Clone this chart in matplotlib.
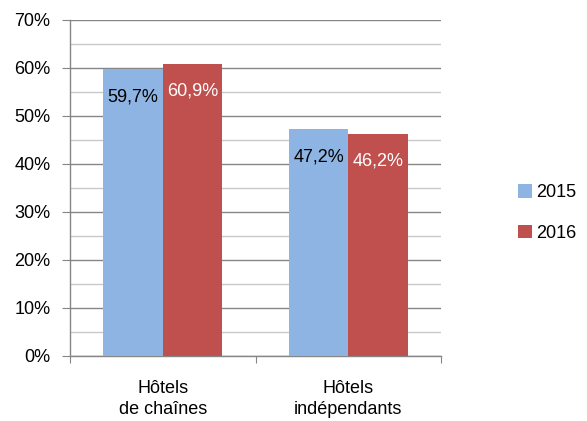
import matplotlib
matplotlib.use("Agg")
import matplotlib.pyplot as plt
import numpy as np
from matplotlib.ticker import MultipleLocator, FuncFormatter

categories = ["Hôtels\nde chaînes", "Hôtels\nindépendants"]
years = ["2015", "2016"]
values_2015 = [59.7, 47.2]
values_2016 = [60.9, 46.2]
labels_2015 = ["59,7%", "47,2%"]
labels_2016 = ["60,9%", "46,2%"]

plt.rcParams['font.family'] = ['Liberation Sans', 'DejaVu Sans']
FS = 13

fig = plt.figure(figsize=(5.87, 4.21), dpi=100)
ax = fig.add_axes([70/587, 1-356/421, 371/587, 336/421])

x = np.arange(len(categories))
w = 0.32
blue = "#8EB4E3"
red = "#C0504D"
b1 = ax.bar(x - w/2, values_2015, w, color=blue, label=years[0], zorder=3)
b2 = ax.bar(x + w/2, values_2016, w, color=red, label=years[1], zorder=3)

for rect, lab in zip(b1, labels_2015):
    ax.annotate(lab, (rect.get_x() + rect.get_width()/2, rect.get_height()),
                xytext=(0, -28), textcoords="offset pixels", ha="center", va="center",
                fontsize=FS, color="black", zorder=4)
for rect, lab in zip(b2, labels_2016):
    ax.annotate(lab, (rect.get_x() + rect.get_width()/2, rect.get_height()),
                xytext=(0, -27), textcoords="offset pixels", ha="center", va="center",
                fontsize=FS, color="white", zorder=4)

ax.set_xlim(-0.5, 1.5)
ax.set_ylim(0, 70)
ax.yaxis.set_major_locator(MultipleLocator(10))
ax.yaxis.set_minor_locator(MultipleLocator(5))
ax.yaxis.set_major_formatter(FuncFormatter(lambda v, p: f"{int(v)}%"))
ax.grid(axis="y", which="major", color="#868686", linewidth=1.0, zorder=0)
ax.grid(axis="y", which="minor", color="#C8C8C8", linewidth=1.0, zorder=0)
ax.tick_params(axis="y", which="major", length=6, color="#868686", labelsize=FS, pad=8)
ax.tick_params(axis="y", which="minor", length=0)

ax.set_xticks([-0.5, 0.5, 1.5])
ax.set_xticklabels([])
ax.set_xticks(x, minor=True)
ax.set_xticklabels(categories, minor=True, fontsize=FS, linespacing=1.3)
ax.tick_params(axis="x", which="major", length=5, color="#868686", direction="out")
ax.tick_params(axis="x", which="minor", length=0, pad=17)

for s in ["top", "right"]:
    ax.spines[s].set_visible(False)
for s in ["left", "bottom"]:
    ax.spines[s].set_color("#868686")
    ax.spines[s].set_linewidth(1.0)

leg = fig.legend(loc="center left", bbox_to_anchor=(518/587, 1-213/421), frameon=False,
                 fontsize=FS, handlelength=0.75, handleheight=0.75, handletextpad=0.25,
                 labelspacing=1.3, borderaxespad=0, borderpad=0)

fig.savefig("out.png", dpi=100)
